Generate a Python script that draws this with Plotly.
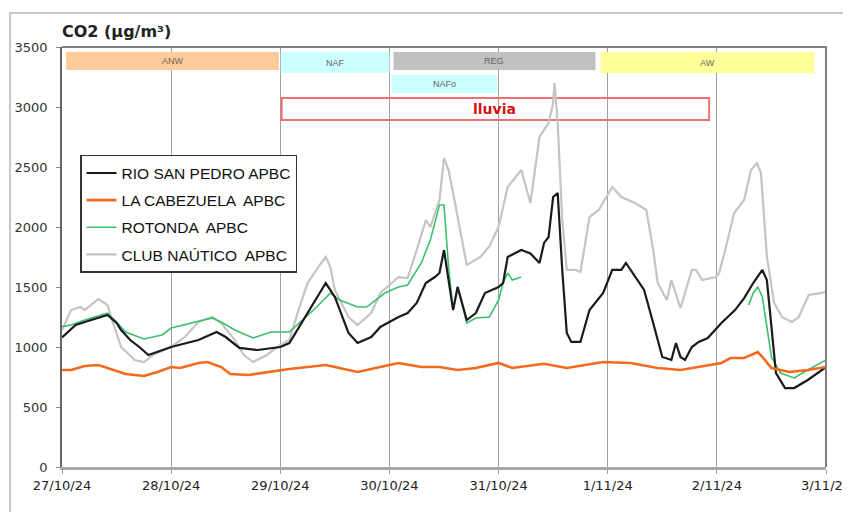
import pandas as pd
import plotly.graph_objects as go

BASE = pd.Timestamp("2024-10-27 00:00")

# ---- data (hours since 27/10/24 00:00, CO2 values) ----
rio_h = [0, 3, 5, 8, 10, 12, 13, 15, 17, 19, 24, 30, 34, 36, 39, 43, 48, 50, 53, 56, 58, 60, 63, 65, 68, 70,
         74, 76, 78, 80, 82, 83, 84, 85, 86, 87, 89, 91, 93, 96, 97, 98, 101, 103, 105, 106, 107, 108, 109,
         110, 111, 112, 114, 116, 119, 121, 123, 124, 128, 130, 132, 134, 135, 136, 137, 138.5, 140, 142,
         145, 148, 150, 152, 154, 155, 156, 157, 159, 161, 164, 168]
rio_v = [1080, 1183, 1208, 1240, 1267, 1200, 1142, 1058, 1000, 933, 1000, 1058, 1125, 1083, 992, 975, 1000,
         1033, 1225, 1417, 1533, 1417, 1117, 1033, 1083, 1167, 1250, 1283, 1367, 1533, 1583, 1617, 1808, 1558,
         1308, 1500, 1225, 1283, 1450, 1500, 1533, 1750, 1808, 1780, 1700, 1867, 1917, 2250, 2283, 1642, 1117,
         1042, 1042, 1308, 1450, 1642, 1642, 1700, 1475, 1200, 917, 892, 1033, 917, 892, 1000, 1042, 1075,
         1200, 1308, 1408, 1533, 1642, 1558, 1167, 783, 658, 658, 725, 833]

cab_h = [0, 2, 5, 8, 10, 14, 18, 21, 24, 26, 30, 32, 35, 37, 41, 45, 50, 58, 65, 70, 74, 79, 83, 87, 91, 96,
         99, 106, 111, 119, 125, 131, 136, 145, 147, 150, 153, 154, 156, 160, 164, 168]
cab_v = [808, 808, 842, 850, 825, 775, 758, 792, 833, 825, 867, 875, 833, 775, 767, 792, 817, 850, 792, 833,
         867, 833, 833, 808, 825, 867, 825, 860, 825, 875, 867, 825, 808, 867, 908, 908, 958, 917, 825, 792,
         808, 833]

rot_h = [0, 2, 5, 10, 12, 14, 18, 22, 24, 29, 33, 35, 38, 42, 46, 50, 53, 56, 59, 61, 65, 67, 71, 74, 76, 79,
         81, 83, 84, 85, 86, 87, 89, 91, 94, 96, 97, 98, 99, 101, 102,
         151, 152, 153, 154, 155, 156, 158, 161, 164, 168]
rot_v = [1170, 1183, 1225, 1283, 1208, 1125, 1067, 1100, 1158, 1208, 1242, 1208, 1142, 1075, 1125, 1125, 1225,
         1333, 1450, 1392, 1333, 1333, 1450, 1500, 1517, 1700, 1892, 2183, 2183, 1667, 1308, 1500, 1200, 1242,
         1250, 1392, 1533, 1617, 1558, 1583, None,
         1350, 1450, 1500, 1417, 1167, 917, 783, 742, 808, 892]

club_h = [0, 2, 4, 5, 8, 10, 11, 13, 16, 18, 20, 24, 27, 30, 33, 35, 38, 40, 42, 45, 48, 50, 52, 54, 57, 58,
          59, 60, 63, 65, 68, 70, 74, 76, 78, 80, 81, 83, 84, 85, 86, 87, 89, 92, 94, 96, 98, 101, 103, 105,
          107, 108, 108.3, 109, 110, 111, 113, 114, 116, 118, 121, 123, 126, 128.5, 130, 131, 133, 134, 136,
          138.5, 139.4, 140.8, 143.8, 144.5, 146, 147.8, 150, 151.5, 152.8, 153.7, 155, 156.6, 158.3, 160.5,
          162, 164.2, 168]
club_v = [1140, 1308, 1333, 1310, 1400, 1350, 1225, 1000, 892, 875, 933, 1000, 1083, 1208, 1250, 1200, 1058,
          933, 875, 933, 1017, 1058, 1308, 1533, 1700, 1750, 1667, 1475, 1250, 1183, 1283, 1450, 1583, 1575,
          1808, 2058, 2000, 2225, 2575, 2475, 2283, 2083, 1683, 1750, 1840, 2000, 2333, 2475, 2200, 2750,
          2867, 3033, 3200, 2867, 2058, 1642, 1642, 1625, 2083, 2142, 2333, 2250, 2200, 2142, 1808, 1533,
          1392, 1558, 1325, 1642, 1642, 1558, 1583, 1617, 1833, 2117, 2225, 2475, 2533, 2450, 1750, 1367,
          1250, 1208, 1250, 1433, 1458]

names = ["RIO SAN PEDRO APBC", "LA CABEZUELA  APBC", "ROTONDA  APBC", "CLUB NAÚTICO  APBC"]

tick_dates = ["2024-10-27", "2024-10-28", "2024-10-29", "2024-10-30", "2024-10-31",
              "2024-11-01", "2024-11-02", "2024-11-03"]
tick_labels = ["27/10/24", "28/10/24", "29/10/24", "30/10/24", "31/10/24", "1/11/24", "2/11/24", "3/11/24"]

y_ticks = [0, 500, 1000, 1500, 2000, 2500, 3000, 3500]

# period bands: (label, start hour, end hour, y0, y1, fill)
bands = [
    ("ANW", 0.9, 47.7, 3308, 3458, "#FFCC99"),
    ("NAF", 48.1, 72.0, 3283, 3458, "#CCFFFF"),
    ("REG", 72.9, 117.3, 3308, 3458, "#C0C0C0"),
    ("NAFo", 72.5, 95.7, 3117, 3267, "#CCFFFF"),
    ("AW", 118.4, 165.4, 3283, 3458, "#FFFF99"),
]
rain = ("lluvia", 48.3, 142.3, 2892, 3075)


def t(hours):
    return [BASE + pd.Timedelta(hours=h) for h in hours]


fig = go.Figure()
series = [
    (club_h, club_v, names[3], "#C4C4C4", 2.2, 4),
    (rot_h, rot_v, names[2], "#3CBF6E", 1.6, 3),
    (rio_h, rio_v, names[0], "#1A1A1A", 2.2, 1),
    (cab_h, cab_v, names[1], "#F36A1C", 2.6, 2),
]
for hs, vs, nm, col, w, rank in series:
    fig.add_trace(go.Scatter(x=t(hs), y=vs, mode="lines", name=nm, legendrank=rank,
                             legendgroup=nm, connectgaps=False,
                             line=dict(color=col, width=w)))

shapes = []
annotations = []
for lab, h0, h1, y0, y1, col in bands:
    shapes.append(dict(type="rect", xref="x", yref="y", x0=BASE + pd.Timedelta(hours=h0),
                       x1=BASE + pd.Timedelta(hours=h1), y0=y0, y1=y1, fillcolor=col,
                       line=dict(width=0), layer="between"))
    annotations.append(dict(x=BASE + pd.Timedelta(hours=(h0 + h1) / 2), y=(y0 + y1) / 2, xref="x", yref="y",
                            text=lab, showarrow=False,
                            font=dict(family="Liberation Sans, Arial", size=9, color="#666666")))
lab, h0, h1, y0, y1 = rain
shapes.append(dict(type="rect", xref="x", yref="y", x0=BASE + pd.Timedelta(hours=h0),
                   x1=BASE + pd.Timedelta(hours=h1), y0=y0, y1=y1, fillcolor="rgba(0,0,0,0)",
                   line=dict(width=2, color="#F07070"), layer="between"))
annotations.append(dict(x=BASE + pd.Timedelta(hours=95), y=(y0 + y1) / 2, xref="x", yref="y",
                        text="<b>lluvia</b>", showarrow=False,
                        font=dict(family="DejaVu Sans", size=14, color="#D81010")))

# outer chart frame
shapes.append(dict(type="rect", xref="paper", yref="paper", x0=-0.068, x1=1.2, y0=-0.3, y1=1.081,
                   line=dict(width=2, color="#C8C8C8"), fillcolor="rgba(0,0,0,0)", layer="below"))
# plot-area top/right border
shapes.append(dict(type="path", xref="paper", yref="paper", path="M 0 1 L 1 1 L 1 0",
                   line=dict(width=2, color="#808080"), layer="above"))

annotations.append(dict(x=-0.003, y=1.036, xref="paper", yref="paper", xanchor="left", yanchor="middle",
                        text="<b>CO2 (µg/m³)</b>", showarrow=False,
                        font=dict(family="DejaVu Sans", size=16, color="#222222")))

fig.update_layout(
    width=835, height=504,
    margin=dict(l=54, r=17, t=39, b=45, autoexpand=False),
    paper_bgcolor="white", plot_bgcolor="white",
    shapes=shapes, annotations=annotations,
    showlegend=True,
    legend=dict(x=0.0236, y=0.743, xanchor="left", yanchor="top",
                bgcolor="white", bordercolor="#333333", borderwidth=1.5,
                font=dict(family="Liberation Sans, Arial", size=15.5, color="#111111"),
                traceorder="grouped", tracegroupgap=4, itemwidth=30),
    xaxis=dict(type="date", range=[BASE, BASE + pd.Timedelta(days=7)],
               tickvals=tick_dates, ticktext=tick_labels,
               showgrid=True, gridcolor="#A0A0A0", gridwidth=1.3,
               showline=True, linecolor="#A8A8A8", linewidth=3,
               ticks="outside", ticklen=4, tickcolor="#A0A0A0",
               tickfont=dict(family="DejaVu Sans", size=13, color="#222222"),
               ticklabeloverflow="allow", automargin=False,
               zeroline=False),
    yaxis=dict(range=[0, 3500], tickvals=y_ticks, showgrid=False,
               showline=True, linecolor="#666666", linewidth=1.5,
               ticks="outside", ticklen=4, tickcolor="#888888",
               tickfont=dict(family="DejaVu Sans", size=13, color="#333333"),
               automargin=False, zeroline=False, ticklabelstandoff=6),
)
fig.update_xaxes(tickprefix="<b>", ticksuffix="</b>")

fig.write_html("out.html")
